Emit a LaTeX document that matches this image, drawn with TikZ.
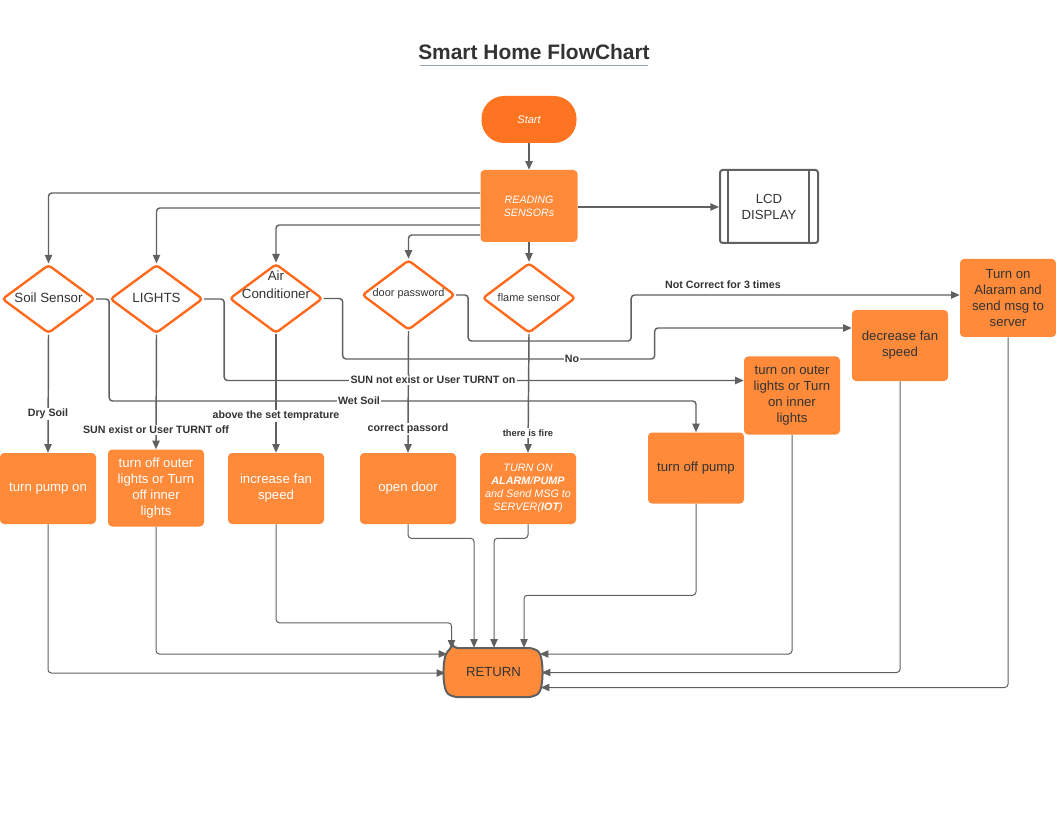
\documentclass[tikz,border=0pt]{standalone}
\usepackage{fontspec}
\setmainfont{Liberation Sans}
\usetikzlibrary{shapes.geometric,arrows.meta,calc}
\definecolor{bor}{HTML}{FF8A3A}
\definecolor{sor}{HTML}{FF7421}
\definecolor{dor}{HTML}{FF6A1C}
\definecolor{lgray}{HTML}{606060}
\definecolor{tgray}{HTML}{333333}
\definecolor{ulg}{HTML}{9AA3B2}
\begin{document}
\begin{tikzpicture}[x=0.75pt,y=-0.75pt,
  box/.style={rectangle, fill=bor, rounded corners=3pt, minimum width=72pt, minimum height=53.25pt,
    align=center, inner sep=1pt, text=white, font=\fontsize{9.9}{12}\selectfont},
  dbox/.style={box, text=tgray},
  dia/.style={diamond, draw=dor, line width=1.8pt, fill=white, rounded corners=2.5pt,
    minimum width=69.75pt, minimum height=51.5pt, inner sep=0pt},
  dtxt/.style={text=tgray, font=\fontsize{10}{12}\selectfont, inner sep=0pt, align=center},
  stxt/.style={dtxt, font=\fontsize{8.2}{10}\selectfont},
  conn/.style={draw=lgray, line width=1.1pt, rounded corners=2.5pt, -{Triangle[length=6.5pt,width=5.5pt]}},
  retc/.style={conn, line width=0.75pt},
  lbl/.style={fill=white, inner sep=1pt, font=\bfseries\fontsize{8}{9.6}\selectfont, text=tgray},
]
\useasboundingbox (0,0) rectangle (1056,816);

% title
\node[inner sep=0pt, text=tgray, font=\bfseries\fontsize{15.7}{18}\selectfont] (title) at (534,52) {Smart Home FlowChart};
\draw[ulg, line width=0.75pt] ($(title.base west)+(2,6)$) -- ($(title.base east)+(-2,6)$);

% top nodes
\node[rectangle, fill=sor, rounded corners=17pt, minimum width=71.25pt, minimum height=35.25pt,
  text=white, font=\itshape\fontsize{8.2}{10}\selectfont] (start) at (529,119.5) {Start};
\node[box, minimum width=72.75pt, minimum height=54pt, font=\itshape\fontsize{8}{9.75}\selectfont] (read) at (529,206) {READING\\SENSORs};
\node[rectangle, draw=lgray, line width=1.5pt, rounded corners=2pt, fill=white, minimum width=73.5pt,
  minimum height=54.75pt, align=center, text=tgray, font=\fontsize{9.9}{12}\selectfont] (lcd) at (769,206.5) {LCD\\DISPLAY};
\draw[lgray, line width=1.5pt] ($(lcd.north west)+(9,0)$) -- ($(lcd.south west)+(9,0)$);
\draw[lgray, line width=1.5pt] ($(lcd.north east)+(-10,0)$) -- ($(lcd.south east)+(-10,0)$);

% diamonds
\node[dia] (soil) at (48.5,299) {};
\node[dia] (lights) at (156.5,299) {};
\node[dia, minimum height=52pt] (ac) at (276,298.5) {};
\node[dia, minimum height=52.5pt] (door) at (408.5,295) {};
\node[dia, minimum height=52.5pt] (flame) at (529,298) {};
\node[dtxt] (soilt) at (48.5,298) {Soil Sensor};
\node[dtxt] (lightst) at (156.5,298) {LIGHTS};
\node[dtxt] (act) at (276,285) {Air\\[1.5pt]Conditioner};
\node[stxt] (doort) at (408.5,294) {door password};
\node[stxt] (flamet) at (529,298) {flame sensor};

% bottom boxes
\node[box] (pump) at (48,488.5) {turn pump on};
\node[box, minimum height=57.75pt] (offl) at (156,488) {turn off outer\\lights or Turn\\off inner\\lights};
\node[box] (incf) at (276,488.5) {increase fan\\speed};
\node[box] (opend) at (408,488.5) {open door};
\node[box, font=\itshape\fontsize{8.1}{9.75}\selectfont] (fire) at (528,488.5) {TURN ON\\\textbf{ALARM}/\textbf{PUMP}\\and Send MSG to\\SERVER(\textbf{IOT})};
\node[dbox] (toff) at (696,468) {turn off pump};
\node[dbox, minimum height=58.5pt] (toon) at (792,395.5) {turn on outer\\lights or Turn\\on inner\\lights};
\node[dbox] (decf) at (900,345.5) {decrease fan\\speed};
\node[dbox, minimum height=58.5pt] (alarm) at (1008,298) {Turn on\\Alaram and\\send msg to\\server};

% RETURN
\draw[fill=bor, draw=lgray, line width=1.5pt, rounded corners=4pt] (452,648) -- (534,648) .. controls (544,656) and (544,689) .. (534,697)
  -- (452,697) .. controls (442,689) and (442,656) .. (452,648) -- cycle;
\node[rectangle, minimum width=72pt, minimum height=36.75pt, text=tgray, font=\fontsize{9.9}{12}\selectfont] (ret) at (493.5,672.5) {RETURN};

% top connectors
\draw[conn] (start.south) -- (read.north);
\draw[conn] ($(read.east)+(0,1)$) -- ($(lcd.west)+(0,0.5)$);
\draw[conn] ($(read.west)+(0,-13)$) -| (soil.north);
\draw[conn] ($(read.west)+(0,2)$) -| (lights.north);
\draw[conn] ($(read.west)+(0,19)$) -| (ac.north);
\draw[conn] ($(read.west)+(0,29)$) -| (door.north);
\draw[conn] (read.south) -- (flame.north);

% diamond downward
\draw[conn] (soil.south) -- (pump.north);
\draw[conn] (lights.south) -- (offl.north);
\draw[conn] (ac.south) -- (incf.north);
\draw[conn] (door.south) -- (opend.north);
\draw[conn] (flame.south) -- (fire.north);

% diamond right routes
\draw[conn] (soil.east) -- ++(13,0) -- ++(0,102) -| (toff.north);
\draw[conn] (lights.east) -- ++(20,0) |- ($(toon.west)+(0,-15)$);
\draw[conn] (ac.east) -- ++(19,0) -- ++(0,60.5) -- ++(312,0) |- ($(decf.west)+(0,-17.5)$);
\draw[conn] (door.east) -- ++(12,0) -- ++(0,46) -- ++(163,0) |- ($(alarm.west)+(0,-3)$);

% labels
\node[lbl] (l1) at (48,414) {Dry Soil};
\node[lbl] (l2) at (156,430) {SUN exist or User TURNT off};
\node[lbl] (l3) at (276,416) {above the set temprature};
\node[lbl] (l4) at (408,429) {correct passord};
\node[lbl, font=\bfseries\fontsize{7}{8.4}\selectfont] (l5) at (528,433) {there is fire};
\node[lbl] (l6) at (359,401) {Wet Soil};
\node[lbl] (l7) at (433,380) {SUN not exist or User TURNT on};
\node[lbl] (l8) at (572,359) {No};
\node[lbl, fill=none] (l9) at (723,285) {Not Correct for 3 times};

% return connectors
\coordinate (rA) at ($(ret.north)+(-42,1)$);
\coordinate (rB) at ($(ret.north)+(-19.5,0)$);
\coordinate (rC) at ($(ret.north)+(0.5,0)$);
\coordinate (rD) at ($(ret.north)+(30.5,0)$);
\draw[retc] (pump.south) |- ($(ret.west)+(0,0.5)$);
\draw[retc] (offl.south) |- ($(ret.west)+(2,-18.5)$);
\draw[retc] (incf.south) -- ++(0,98.5) -| (rA);
\draw[retc] (opend.south) -- ++(0,14) -| (rB);
\draw[retc] (fire.south) -- ++(0,14) -| (rC);
\draw[retc] (toff.south) -- ++(0,91.5) -| (rD);
\draw[retc] (toon.south) |- ($(ret.east)+(-2,-18.5)$);
\draw[retc] (decf.south) |- ($(ret.east)+(0,0)$);
\draw[retc] (alarm.south) |- ($(ret.east)+(-1,15)$);
\end{tikzpicture}
\end{document}
